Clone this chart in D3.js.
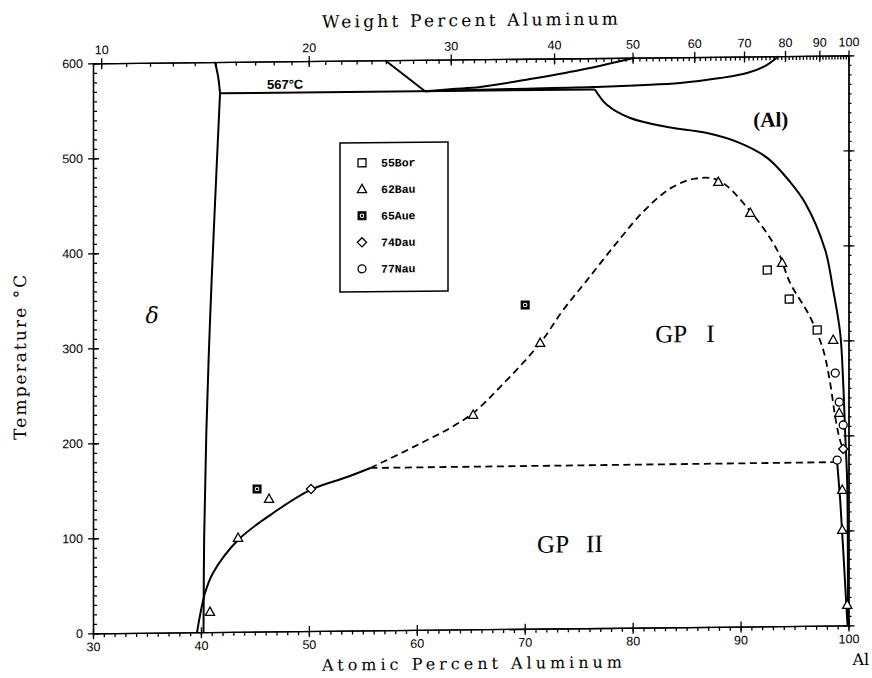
<!DOCTYPE html>
<html>
<head>
<meta charset="utf-8">
<script src="https://cdn.jsdelivr.net/npm/d3@7"></script>
<style>
    body { margin: 0; background: #fff; }
    .axis path, .axis line { stroke: #000; stroke-width: 1.3; }
    .axis text { font-family: "Liberation Sans", Arial, sans-serif; font-size: 12.5px; fill: #000; }
    .axis-title { font-family: "DejaVu Serif", "Liberation Serif", serif; font-size: 17px; fill: #000; }
    .boundary { fill: none; stroke: #000; stroke-width: 2; stroke-linejoin: round; }
    .dashed { fill: none; stroke: #000; stroke-width: 1.8; stroke-dasharray: 7,4.5; }
    .marker { fill: #fff; stroke: #000; stroke-width: 1.3; }
    .region { font-family: "Liberation Serif", "DejaVu Serif", serif; font-size: 25px; fill: #000; }
    .legend-text { font-family: "Liberation Mono", "DejaVu Sans Mono", monospace; font-weight: bold; font-size: 11.5px; fill: #000; }
</style>
</head>
<body>
<div id="chart"></div>
<script>
// Ag-Al phase diagram, Al-rich side: [atomic % Al, temperature °C]
const deltaTop = [[41.3, 600], [41.6, 584], [41.77, 567]];
const deltaSolvus = [[41.77, 567], [41.3, 450], [40.85, 330], [40.5, 210], [40.3, 100], [40.24, 0]];
const eutectoidLine = [[41.77, 567], [76.5, 567]];
const upperLeft = [[57.06, 600], [60.77, 567]];
const upperMid = [[60.77, 567], [63.3, 569], [65.87, 570.8], [70.5, 578.6], [75.13, 587.6], [80.2, 600]];
const upperRight = [[60.77, 567], [67.7, 568.3], [76.3, 569.5], [84.4, 572.8], [88.1, 577.6], [90.6, 582.6], [92.3, 590], [93.5, 600]];
const alSolvus = [[76.5, 567], [77.64, 550.4], [79.77, 536.5], [83.2, 526.6], [86.9, 519.8], [89.96, 508.9],
    [92.47, 493], [94.6, 467.3], [95.99, 445.1], [97.84, 395.4], [98.58, 353.2], [99.23, 307.9],
    [99.51, 255.2], [99.69, 202.5], [99.88, 149.9], [99.95, 44.6], [99.96, 0]];
const gp2Left = [[39.64, 0], [40.38, 41.2], [41.12, 62.2], [43.44, 96.6], [46.68, 124.6], [50.11, 148.4], [53.54, 161.7], [55.7, 171]];
const gp2Right = [[98.95, 172], [99.23, 132.1], [99.51, 79.4], [99.88, 5.7], [99.92, 0]];
const gp1Solvus = [[55.7, 171], [58.5, 186], [61, 200], [63.09, 212.2], [65.22, 227.7], [67.72, 254.8], [71.43, 300.6],
    [73.56, 335.1], [75.78, 366.4], [78.5, 405], [81, 438], [83.5, 462], [85.8, 472], [87.94, 470],
    [90.9, 437], [93.39, 395.9], [94.6, 361], [96.45, 325], [97.66, 290.1], [98.3, 255.3], [98.77, 219.5],
    [99.14, 198.4], [99.51, 184.7]];
const gp1gp2Line = [[55.7, 171], [98.95, 172]];

// experimental points
const bor55 = [[92.47, 375], [94.51, 344.2], [97.1, 311.3]];
const bau62 = [[40.84, 21.1], [43.44, 98.7], [46.31, 139.4], [65.22, 225.6], [71.43, 300.6], [87.94, 468.1],
    [90.9, 435.2], [93.85, 382.2], [98.58, 300.6], [99.14, 223.7], [99.42, 142.6], [99.42, 100.5], [99.88, 21.5]];
const aue65 = [[45.2, 150.1], [70.04, 340.8]];
const dau74 = [[50.2, 149.5], [99.51, 185.8]];
const nau77 = [[98.77, 265.8], [99.14, 235.2], [99.51, 211], [98.95, 174.2]];

const legendLabels = ['55Bor', '62Bau', '65Aue', '74Dau', '77Nau'];

// tick values
const atMinor = d3.range(30, 101, 1);
const atMajor = [30, 40, 50, 60, 70, 80, 90, 100];
const tMinor = d3.range(0, 601, 10);
const tMajor = [0, 100, 200, 300, 400, 500, 600];
const wtMinor = d3.range(10, 101, 1);
const wtMajor = [10, 20, 30, 40, 50, 60, 70, 80, 90, 100];

// weight % Al -> atomic % Al (Ag-Al)
const atFromWt = w => {
    const a = w / 26.98, b = (100 - w) / 107.87;
    return 100 * a / (a + b);
};

const width = 872, height = 678;
const margin = { top: 64.3, left: 93 };
const innerW = 755.5, innerH = 570;

const svg = d3.select('#chart').append('svg')
    .attr('width', width)
    .attr('height', height);

// the scanned figure is slightly skewed
const page = svg.append('g').attr('transform', 'skewY(-0.6)');

const chart = page.append('g')
    .attr('transform', `translate(${margin.left},${margin.top})`);

const x = d3.scaleLinear().domain([30, 100]).range([0, innerW]);
const y = d3.scaleLinear().domain([0, 600]).range([innerH, 0]);

// bottom axis
chart.append('g')
    .attr('class', 'axis')
    .attr('transform', `translate(0,${innerH})`)
    .call(d3.axisBottom(x).tickValues(atMinor).tickSize(4).tickSizeOuter(0).tickFormat(''));
chart.append('g')
    .attr('class', 'axis')
    .attr('transform', `translate(0,${innerH})`)
    .call(d3.axisBottom(x).tickValues(atMajor).tickSize(6).tickPadding(3).tickSizeOuter(0))
    .call(g => g.selectAll('.tick line').attr('y1', -5));

// top axis, weight percent
chart.append('g')
    .attr('class', 'axis')
    .call(d3.axisTop(x).tickValues(wtMinor.map(atFromWt)).tickSize(-4).tickSizeOuter(0).tickFormat(''));
chart.append('g')
    .attr('class', 'axis')
    .call(d3.axisTop(x).tickValues(wtMajor.map(atFromWt)).tickSize(5).tickPadding(4).tickSizeOuter(0)
        .tickFormat((d, i) => wtMajor[i]))
    .call(g => g.selectAll('.tick line').attr('y1', 6));

// left axis
chart.append('g')
    .attr('class', 'axis')
    .call(d3.axisLeft(y).tickValues(tMinor).tickSize(-4).tickSizeOuter(0).tickFormat(''));
chart.append('g')
    .attr('class', 'axis')
    .call(d3.axisLeft(y).tickValues(tMajor).tickSize(5).tickPadding(5).tickSizeOuter(0))
    .call(g => g.selectAll('.tick line').attr('x1', 6));

// right axis
chart.append('g')
    .attr('class', 'axis')
    .attr('transform', `translate(${innerW},0)`)
    .call(d3.axisRight(y).tickValues(tMinor).tickSize(3).tickSizeOuter(0).tickFormat(''));
chart.append('g')
    .attr('class', 'axis')
    .attr('transform', `translate(${innerW},0)`)
    .call(d3.axisRight(y).tickValues(tMajor).tickSize(6).tickSizeOuter(0).tickFormat(''))
    .call(g => g.selectAll('.tick line').attr('x1', -5));

// phase boundaries
const line = d3.line().x(d => x(d[0])).y(d => y(d[1]));
const smooth = d3.line().x(d => x(d[0])).y(d => y(d[1])).curve(d3.curveCatmullRom.alpha(0.5));

[eutectoidLine, upperLeft].forEach(d =>
    chart.append('path').attr('class', 'boundary').attr('d', line(d)));
[deltaTop, deltaSolvus, upperMid, upperRight, gp2Left, alSolvus].forEach(d =>
    chart.append('path').attr('class', 'boundary').attr('d', smooth(d)));
chart.append('path').attr('class', 'boundary').attr('d', line(gp2Right)).attr('stroke-width', 1.6);

chart.append('path').attr('class', 'dashed').attr('d', smooth(gp1Solvus));
chart.append('path').attr('class', 'dashed').attr('d', line(gp1gp2Line));

// markers
const drawSquare = (g, size) => g.append('rect')
    .attr('x', -size / 2).attr('y', -size / 2).attr('width', size).attr('height', size);
const symbols = {
    '55Bor': g => drawSquare(g, 8).attr('class', 'marker'),
    '62Bau': g => g.append('path').attr('class', 'marker').attr('d', 'M0,-5L4.6,3.3L-4.6,3.3Z'),
    '65Aue': g => {
        drawSquare(g, 8).attr('fill', '#000').attr('stroke', '#000');
        g.append('circle').attr('r', 1.8).attr('fill', 'none').attr('stroke', '#fff').attr('stroke-width', 1);
    },
    '74Dau': g => g.append('path').attr('class', 'marker').attr('d', 'M0,-4.6L4.6,0L0,4.6L-4.6,0Z'),
    '77Nau': g => g.append('circle').attr('class', 'marker').attr('r', 4)
};

const series = [bor55, bau62, aue65, dau74, nau77];
series.forEach((pts, i) => {
    pts.forEach(p => {
        const g = chart.append('g').attr('transform', `translate(${x(p[0])},${y(p[1])})`);
        symbols[legendLabels[i]](g);
    });
});

// legend
const legend = chart.append('g').attr('transform', 'translate(247,82.3)');
legend.append('rect')
    .attr('width', 108).attr('height', 149)
    .attr('fill', '#fff').attr('stroke', '#000').attr('stroke-width', 1.5);
legendLabels.forEach((lab, i) => {
    const row = legend.append('g').attr('transform', `translate(0,${20 + i * 26.5})`);
    symbols[lab](row.append('g').attr('transform', 'translate(22,0)'));
    row.append('text').attr('class', 'legend-text')
        .attr('x', 41).attr('dy', '0.35em').text(lab);
});

// region labels
chart.append('text').attr('x', x(47.8)).attr('y', y(571))
    .attr('text-anchor', 'middle')
    .style('font-family', '"Liberation Sans", Arial, sans-serif')
    .style('font-weight', 'bold').style('font-size', '13px')
    .text('567°C');
chart.append('text').attr('class', 'region').attr('x', x(35.47)).attr('y', y(326))
    .attr('text-anchor', 'middle').style('font-style', 'italic').style('font-family', '"DejaVu Serif", serif')
    .style('font-size', '22px')
    .text('δ');

const gp1 = chart.append('text').attr('class', 'region').attr('x', x(82.1)).attr('y', y(300));
gp1.append('tspan').text('GP');
gp1.append('tspan').attr('dx', 19).text('I');
const gp2 = chart.append('text').attr('class', 'region').attr('x', x(71.15)).attr('y', y(80));
gp2.append('tspan').text('GP');
gp2.append('tspan').attr('dx', 17).text('II');

chart.append('text').attr('class', 'region').attr('x', x(92.8)).attr('y', y(526))
    .attr('text-anchor', 'middle').style('font-weight', 'bold').style('font-size', '21px').text('(Al)');

// axis titles
page.append('text').attr('class', 'axis-title')
    .attr('x', 322).attr('y', 31)
    .attr('textLength', 296).attr('lengthAdjust', 'spacing')
    .text('Weight Percent Aluminum');
page.append('text').attr('class', 'axis-title')
    .attr('x', 322).attr('y', 674)
    .style('font-size', '16px')
    .attr('textLength', 300).attr('lengthAdjust', 'spacing')
    .text('Atomic Percent Aluminum');
page.append('text').attr('class', 'axis-title')
    .attr('x', margin.left + innerW + 4).attr('y', 674)
    .style('font-size', '16px')
    .text('Al');
page.append('text').attr('class', 'axis-title')
    .attr('transform', 'translate(26,440) rotate(-90)')
    .attr('textLength', 165).attr('lengthAdjust', 'spacing')
    .text('Temperature °C');
</script>
</body>
</html>
